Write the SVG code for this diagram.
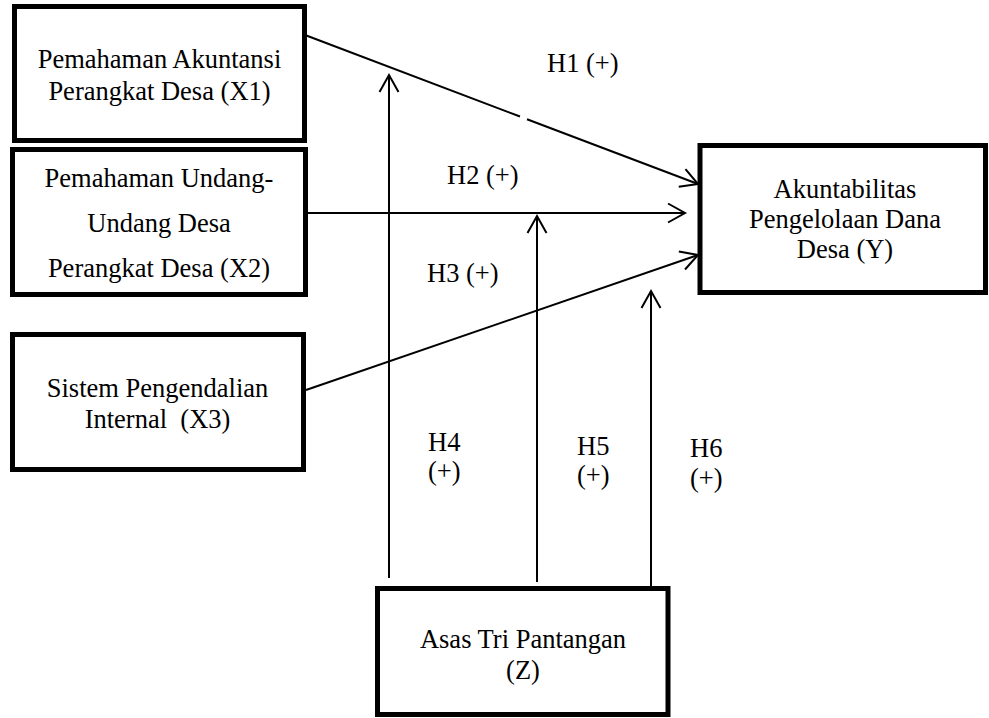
<svg xmlns="http://www.w3.org/2000/svg" width="989" height="718" viewBox="0 0 989 718">
<style>
  .box { fill: #ffffff; stroke: #000000; stroke-width: 5; }
  .t { font-family: "Liberation Serif", "Times New Roman", serif; font-size: 26.5px; fill: #000000; }
  .m { text-anchor: middle; }
  .c { fill: none; stroke: #000000; stroke-width: 2; marker-end: url(#arr); }
</style>
<defs>
  <marker id="arr" markerUnits="userSpaceOnUse" markerWidth="30" markerHeight="30" viewBox="-20 -15 30 30" refX="0" refY="0" orient="auto">
    <path d="M-17,-9.5 L0,0 L-17,9.5" fill="none" stroke="#000000" stroke-width="2"/>
  </marker>
</defs>
<rect width="989" height="718" fill="#ffffff"/>
<g id="connectors">
  <path id="h1" class="c" d="M305,35 L520,116.5 M527,119.2 L698,184"/>
  <path id="h2" class="c" d="M305,213 L685,213"/>
  <path id="h3" class="c" d="M306,390 L698,255"/>
  <path id="h4" class="c" d="M389,578 L389,75"/>
  <path id="h5" class="c" d="M537,582 L537,216"/>
  <path id="h6" class="c" d="M651,586 L651,291"/>
</g>
<g id="x1">
  <rect class="box" x="14.5" y="6.5" width="290" height="134"/>
  <text class="t m" x="159.5" y="68">Pemahaman Akuntansi</text>
  <text class="t m" x="159.5" y="100">Perangkat Desa (X1)</text>
</g>
<g id="x2">
  <rect class="box" x="12.5" y="149.5" width="293" height="145"/>
  <text class="t m" x="159" y="187">Pemahaman Undang-</text>
  <text class="t m" x="159" y="232">Undang Desa</text>
  <text class="t m" x="159" y="277">Perangkat Desa (X2)</text>
</g>
<g id="x3">
  <rect class="box" x="12.5" y="334.5" width="291" height="135"/>
  <text class="t m" x="157.5" y="397">Sistem Pengendalian</text>
  <text class="t m" x="157.5" y="428" xml:space="preserve">Internal  (X3)</text>
</g>
<g id="y">
  <rect class="box" x="700" y="145.5" width="285.5" height="147"/>
  <text class="t m" x="845" y="198">Akuntabilitas</text>
  <text class="t m" x="845" y="228">Pengelolaan Dana</text>
  <text class="t m" x="845" y="258">Desa (Y)</text>
</g>
<g id="z">
  <rect class="box" x="377.5" y="588.5" width="290.5" height="126"/>
  <text class="t m" x="523" y="648">Asas Tri Pantangan</text>
  <text class="t m" x="523" y="679">(Z)</text>
</g>
<g id="labels">
  <text class="t" x="547" y="72">H1 (+)</text>
  <text class="t" x="447" y="184">H2 (+)</text>
  <text class="t" x="427" y="282">H3 (+)</text>
  <text class="t"><tspan x="428" y="451">H4</tspan><tspan x="428" y="480">(+)</tspan></text>
  <text class="t"><tspan x="577" y="455">H5</tspan><tspan x="577" y="484">(+)</tspan></text>
  <text class="t"><tspan x="690" y="457">H6</tspan><tspan x="690" y="487">(+)</tspan></text>
</g>
</svg>
